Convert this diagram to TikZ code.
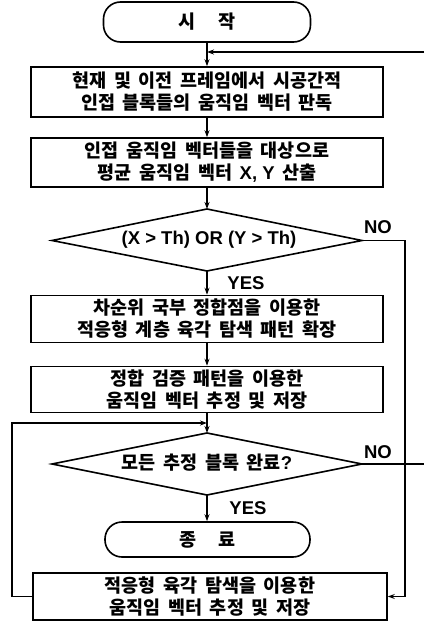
\documentclass[tikz,border=0pt]{standalone}
\usepackage{fontspec}
\setmainfont{Noto Sans CJK KR}[WordSpace=1.8]
\newfontfamily\latfont{Liberation Sans}
\usetikzlibrary{arrows.meta}
\newcommand{\lblfont}{\bfseries\fontsize{18.5}{22}\selectfont}
\newcommand{\lat}[1]{{\latfont\bfseries #1}}
\begin{document}
\begin{tikzpicture}[x=1pt,y=-1pt,line width=1.6pt,
  proc/.style={draw, rectangle, inner sep=0pt, align=center, font=\lblfont},
  term/.style={draw, rectangle, rounded corners=17pt, inner sep=0pt, font=\lblfont},
  lab/.style={inner sep=0pt, font=\lblfont},
  flow/.style={-{Stealth[length=7pt,width=5pt]}}]
\useasboundingbox (0,0) rectangle (424,621);

% nodes
\node[term, minimum width=207, minimum height=40] (start) at (207,22) {시\hspace{1.2em}작};
\node[proc, minimum width=352, minimum height=50] (b1) at (207,92)
  {현재 및 이전 프레임에서 시공간적\\인접 블록들의 움직임 벡터 판독};
\node[proc, minimum width=352, minimum height=49] (b2) at (207,162.5)
  {인접 움직임 벡터들을 대상으로\\평균 움직임 벡터 \lat{X, Y} 산출};

\coordinate (d1n) at (207,209);
\coordinate (d1e) at (362,240.5);
\coordinate (d1s) at (207,271);
\coordinate (d1w) at (52,240.5);
\draw (d1n) -- (d1e) -- (d1s) -- (d1w) -- cycle;
\node[lab] (t1) at (209,240) {\lat{(X > Th) OR (Y > Th)}};

\node[proc, minimum width=352, minimum height=47] (b3) at (207,319)
  {차순위 국부 정합점을 이용한\\적응형 계층 육각 탐색 패턴 확장};
\node[proc, minimum width=352, minimum height=46] (b4) at (207,389.5)
  {정합 검증 패턴을 이용한\\움직임 벡터 추정 및 저장};

\coordinate (d2n) at (207,433);
\coordinate (d2e) at (362,464);
\coordinate (d2s) at (207,495);
\coordinate (d2w) at (52,464);
\draw (d2n) -- (d2e) -- (d2s) -- (d2w) -- cycle;
\node[lab] (t2) at (207,463) {모든 추정 블록 완료\lat{?}};

\node[term, minimum width=205, minimum height=35] (end) at (207.5,539.5) {종\hspace{1.2em}료};
\node[proc, minimum width=354, minimum height=47] (b5) at (210,596.5)
  {적응형 육각 탐색을 이용한\\움직임 벡터 추정 및 저장};

% labels
\node[lab] (no1) at (378,227) {\lat{NO}};
\node[lab] (yes1) at (246,283) {\lat{YES}};
\node[lab] (no2) at (378,452) {\lat{NO}};
\node[lab] (yes2) at (248,508) {\lat{YES}};

% connectors
\coordinate (topin) at (424,52);
\coordinate (nocorner) at (405,240.5);
\coordinate (loopl) at (12,423);
\coordinate (no2end) at (424,464);

\draw[flow] (start.south) -- (b1.north);
\draw[flow] (topin) -- (topin -| start.south);
\draw[flow] (b1.south) -- (b2.north);
\draw[flow] (b2.south) -- (d1n);
\draw[flow] (d1s) -- (b3.north -| d1s);
\draw[flow] (b3.south) -- (b4.north);
\draw[flow] (b4.south) -- (d2n);
\draw[flow] (d2s) -- (d2s |- end.north);
\draw[flow] (d1e) -- (nocorner) |- (b5.east);
\draw (d2e) -- (no2end);
\draw[flow] (b5.west) -| (loopl) -- (loopl -| d2n);
\end{tikzpicture}
\end{document}
